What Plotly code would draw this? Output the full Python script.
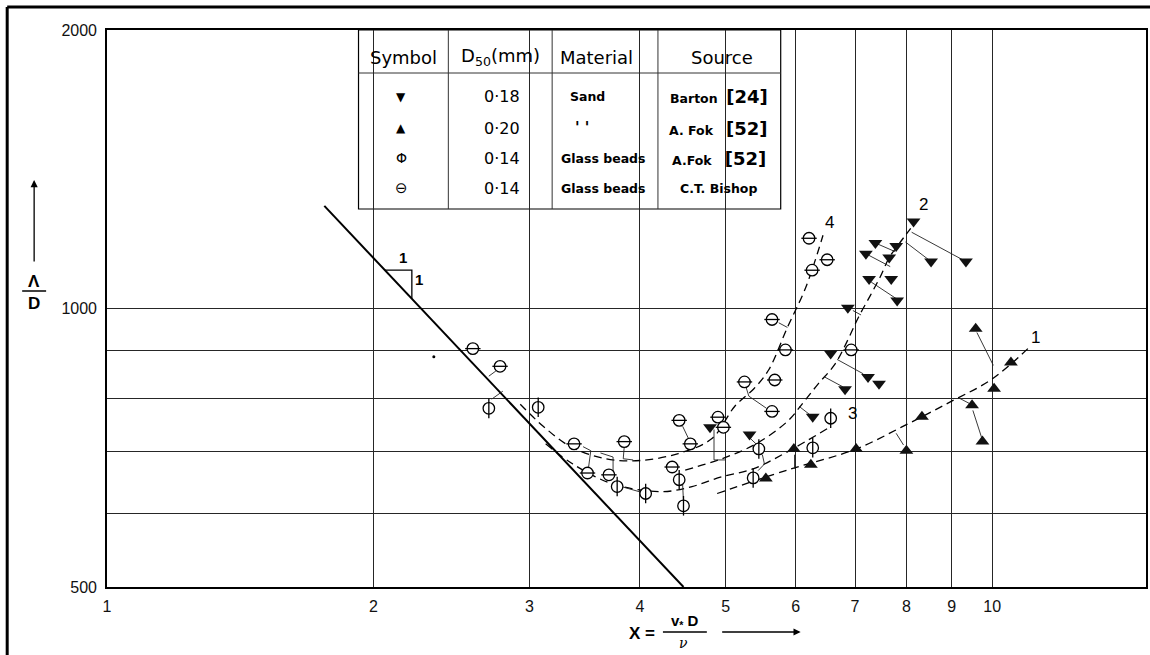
import numpy as np
import plotly.graph_objects as go

# ---------------- data ----------------
# Sand, Barton (filled down-triangles)
down_x = [4.80, 5.32, 6.27, 6.57, 6.82, 6.87, 7.24, 7.45, 7.20, 7.26, 7.38, 7.65, 7.69, 7.79, 7.81, 8.15, 8.53, 9.34]
down_y = [744, 731, 764, 894, 818, 1002, 843, 829, 1146, 1076, 1177, 1135, 1076, 1168, 1020, 1242, 1124, 1124]
# Sand, A. Fok (filled up-triangles)
up_x = [5.55, 5.97, 6.24, 7.02, 8.00, 8.33, 9.49, 9.75, 9.58, 10.05, 10.5]
up_y = [655, 705, 678, 705, 702, 764, 786, 718, 951, 819, 874]
# Glass beads, A. Fok (circle with vertical bar)
phi_x = [2.70, 3.07, 3.77, 4.06, 4.43, 4.48, 5.37, 5.45, 6.27, 6.57]
phi_y = [780, 782, 642, 631, 653, 612, 656, 705, 707, 761]
# Glass beads, C.T. Bishop (circle with horizontal bar)
theta_x = [2.59, 2.78, 3.37, 3.49, 3.69, 3.84, 4.43, 4.56, 4.35, 4.90, 4.97, 6.21, 6.51, 6.26, 5.64, 5.84, 5.25, 5.68, 6.93, 5.64]
theta_y = [905, 866, 714, 664, 661, 718, 757, 714, 674, 763, 744, 1191, 1129, 1100, 973, 902, 833, 837, 902, 774]

# dashed trend curves 1..4
c1_x = [4.89, 5.87, 7.02, 8.00, 9.00, 10.0, 11.0]
c1_y = [631, 669, 705, 749, 794, 839, 907]
c2_x = [4.50, 4.95, 5.41, 5.87, 6.11, 6.36, 6.64, 6.87, 7.06, 7.28, 7.47, 7.65, 7.83, 8.09]
c2_y = [669, 688, 714, 755, 790, 829, 870, 925, 978, 1032, 1081, 1135, 1171, 1221]
c3_x = [3.13, 3.36, 3.73, 4.24, 4.58, 4.95, 5.37, 5.87, 6.52]
c3_y = [714, 679, 646, 634, 642, 658, 671, 700, 742]
c4_x = [2.93, 3.11, 3.34, 3.66, 4.00, 4.42, 4.82, 5.12, 5.38, 5.59, 5.87, 6.16, 6.44]
c4_y = [788, 746, 709, 688, 685, 697, 723, 784, 819, 858, 954, 1055, 1200]

# thin tie lines between points and curves (None separates segments)
tie_x = [2.75, 2.70, None, 2.72, 2.80, None, 3.45, 3.52, 3.50, None, 3.61, 3.73, 3.73, None,
         3.84, 3.83, 3.93, None, 3.81, 3.99, None, 4.47, 4.54, None, 4.47, 4.48, None,
         4.85, 4.85, 4.99, None, 5.27, 5.31, 5.56, None, 5.74, 5.87, None, 5.32, 5.41, None,
         5.50, 5.53, 5.44, None, 5.98, 5.98, None, 6.05, 6.22, None, 6.68, 7.15, None,
         6.47, 6.78, None, 6.96, 7.11, None, 7.20, 7.67, None, 7.38, 7.77, None,
         8.11, 9.34, None, 7.98, 8.53, None, 7.30, 7.79, None, 7.94, 7.79, None,
         9.61, 10.03, None, 9.18, 9.46, None, 9.51, 9.73]
tie_y = [856, 845, None, 798, 814, None, 709, 702, 674, None, 698, 691, 666, None,
         709, 688, 686, None, 642, 634, None, 746, 723, None, 645, 618, None,
         740, 686, 686, None, 823, 804, 780, None, 965, 954, None, 725, 714, None,
         695, 679, 668, None, 695, 671, None, 784, 768, None, 881, 850, None,
         843, 823, None, 995, 984, None, 1146, 1110, None, 1177, 1152, None,
         1209, 1124, None, 1180, 1124, None, 1068, 1025, None, 712, 733, None,
         942, 868, None, 800, 788, None, 776, 725]

# slope -1 limit line and its 1:1 triangle
lim_x = [1.76, 4.48]
lim_y = [1291, 500]
tri_x = [2.06, 2.21, 2.21]
tri_y = [1100, 1100, 1025]

speck_x = [2.34]
speck_y = [887]

x_ticks = [1, 2, 3, 4, 5, 6, 7, 8, 9, 10]
y_grid = [500, 600, 700, 800, 900, 1000, 2000]
y_labels = ["500", "", "", "", "", "1000", "2000"]

curve_labels = ["1", "2", "3", "4"]
curve_label_x = [11.2, 8.37, 6.95, 6.55]
curve_label_y = [930, 1295, 770, 1240]

table_header = ["Symbol", "D<sub>50</sub>(mm)", "Material", "Source"]
table_symbols = ["▼", "▲", "Φ", "⊖"]
table_d50 = ["0·18", "0·20", "0·14", "0·14"]
table_material = ["Sand", "' '", "Glass beads", "Glass beads"]
table_source = ["Barton  <span style='font-size:18px'>[24]</span>",
                "A. Fok   <span style='font-size:18px'>[52]</span>",
                "A.Fok   <span style='font-size:18px'>[52]</span>",
                "C.T. Bishop"]

# ---------------- figure ----------------
FONT = "DejaVu Sans, Liberation Sans, Arial, sans-serif"
FONT2 = "Liberation Sans, Arial, sans-serif"
fig = go.Figure()

fig.add_trace(go.Scatter(x=lim_x, y=lim_y, mode="lines",
                         line=dict(color="black", width=2), hoverinfo="skip"))
fig.add_trace(go.Scatter(x=tri_x, y=tri_y, mode="lines",
                         line=dict(color="black", width=1.3), hoverinfo="skip"))
for cx, cy in [(c1_x, c1_y), (c2_x, c2_y), (c3_x, c3_y), (c4_x, c4_y)]:
    fig.add_trace(go.Scatter(x=cx, y=cy, mode="lines", line_shape="spline",
                             line=dict(color="black", width=1.3, dash="8px,5px"),
                             hoverinfo="skip"))
fig.add_trace(go.Scatter(x=tie_x, y=tie_y, mode="lines",
                         line=dict(color="#222", width=0.9), connectgaps=False,
                         hoverinfo="skip"))

fig.add_trace(go.Scatter(x=speck_x, y=speck_y, mode="markers",
                         marker=dict(symbol="circle", size=3, color="black")))

fig.add_trace(go.Scatter(x=down_x, y=down_y, mode="markers",
                         marker=dict(symbol="triangle-down", size=12, color="#111",
                                     line=dict(width=0))))
fig.add_trace(go.Scatter(x=up_x, y=up_y, mode="markers",
                         marker=dict(symbol="triangle-up", size=12, color="#111",
                                     line=dict(width=0))))

for sx, sy, bar, bsize in [(phi_x, phi_y, "line-ns", 14), (theta_x, theta_y, "line-ew", 11)]:
    fig.add_trace(go.Scatter(x=sx, y=sy, mode="markers",
                             marker=dict(symbol="circle", size=11.5, color="white",
                                         line=dict(color="black", width=1.3))))
    fig.add_trace(go.Scatter(x=sx, y=sy, mode="markers",
                             marker=dict(symbol=bar, size=bsize, color="black",
                                         line=dict(color="black", width=1.3))))

# ---------------- layout ----------------
L, R, T, B = 107, 2, 30, 68
W, H = 1150, 655
pw, ph = W - L - R, H - T - B


def px(xp):
    return (xp - L) / pw


def py(yp):
    return (H - B - yp) / ph


shapes = []
# legend table (white box hides grid lines)
tx0, tx1, ty0, ty1 = px(359), px(782), py(209), 1.0
shapes.append(dict(type="rect", xref="paper", yref="paper", x0=tx0, x1=tx1, y0=ty0, y1=ty1,
                   fillcolor="white", line=dict(color="black", width=1.2), layer="between"))
shapes.append(dict(type="line", xref="paper", yref="paper", x0=tx0, x1=tx1, y0=py(73), y1=py(73),
                   line=dict(color="#333", width=1), layer="between"))
for cxp in [449, 553, 659]:
    shapes.append(dict(type="line", xref="paper", yref="paper", x0=px(cxp), x1=px(cxp),
                       y0=ty0, y1=ty1, line=dict(color="#333", width=1), layer="between"))
# outer page frame (top + left visible)
shapes.append(dict(type="line", xref="paper", yref="paper", x0=px(7), x1=px(1160),
                   y0=py(7), y1=py(7), line=dict(color="black", width=3)))
shapes.append(dict(type="line", xref="paper", yref="paper", x0=px(7), x1=px(7),
                   y0=py(7), y1=py(665), line=dict(color="black", width=3)))
# y-title fraction bar and x-title fraction bar
shapes.append(dict(type="line", xref="paper", yref="paper", x0=px(22), x1=px(46),
                   y0=py(291), y1=py(291), line=dict(color="black", width=1.5)))
shapes.append(dict(type="line", xref="paper", yref="paper", x0=px(664), x1=px(708),
                   y0=py(632), y1=py(632), line=dict(color="black", width=1.3)))

ann = []


def txt(x, y, text, size, family=FONT, xref="paper", yref="paper"):
    ann.append(dict(xref=xref, yref=yref, x=x, y=y, text=text, showarrow=False,
                    xanchor="center", yanchor="middle",
                    font=dict(size=size, color="black", family=family)))


# table text
hdr_x = [404, 501, 597, 723]
for t, xx in zip(table_header, hdr_x):
    txt(px(xx), py(57), t, 18)
row_y = [97, 128, 158, 188]
sym_size = [12, 12, 14, 15]
mat_x = [588, 583, 604, 604]
mat_size = [12.5, 15, 12.5, 12.5]
for i, yy in enumerate(row_y):
    txt(px(402), py(yy), table_symbols[i], sym_size[i], "DejaVu Sans")
    txt(px(503), py(yy), table_d50[i], 16)
    txt(px(mat_x[i]), py(yy), "<b>" + table_material[i] + "</b>", mat_size[i])
    txt(px(720), py(yy), "<b>" + table_source[i] + "</b>", 12.5)

# curve labels
for lab, lx, ly in zip(curve_labels, curve_label_x, curve_label_y):
    txt(np.log10(lx), np.log10(ly), lab, 17, FONT2, "x", "y")
# 1:1 slope labels
txt(np.log10(2.16), np.log10(1135), "<b>1</b>", 15, FONT2, "x", "y")
txt(np.log10(2.25), np.log10(1076), "<b>1</b>", 15, FONT2, "x", "y")

# y axis title: arrow + Λ / D
ann.append(dict(xref="paper", yref="paper", x=px(34), y=py(180), ax=0, ay=83, text="",
                showarrow=True, arrowhead=2, arrowsize=1.1, arrowwidth=1.3, arrowcolor="black"))
txt(px(34), py(281), "<b>Λ</b>", 17, FONT2)
txt(px(34), py(303), "<b>D</b>", 17, FONT2)
# x axis title: X = v* D / ν  --->
txt(px(643), py(633), "<b>X =</b>", 17, FONT2)
txt(px(686), py(621), "<b>v<sub>*</sub> D</b>", 15, FONT2)
txt(px(685), py(643), "<i>ν</i>", 14, "DejaVu Serif")
ann.append(dict(xref="paper", yref="paper", x=px(802), y=py(632), ax=-80, ay=0, text="",
                showarrow=True, arrowhead=2, arrowsize=1.1, arrowwidth=1.3, arrowcolor="black"))

fig.update_layout(
    width=W, height=H,
    margin=dict(l=L, r=R, t=T, b=B),
    paper_bgcolor="white", plot_bgcolor="white",
    showlegend=False,
    font=dict(family=FONT2, color="black"),
    shapes=shapes, annotations=ann,
)
fig.update_xaxes(type="log", range=[0, np.log10(14.92)],
                 tickvals=x_ticks, ticktext=[str(v) for v in x_ticks],
                 showgrid=True, gridcolor="#262626", gridwidth=1,
                 showline=True, linecolor="black", linewidth=1.6, mirror=True,
                 ticks="", ticklabelstandoff=4, zeroline=False,
                 tickfont=dict(size=16, family=FONT2, color="#111"))
fig.update_yaxes(type="log", range=[np.log10(500), np.log10(2000)],
                 tickvals=y_grid, ticktext=y_labels,
                 showgrid=True, gridcolor="#262626", gridwidth=1,
                 showline=True, linecolor="black", linewidth=1.6, mirror=True,
                 ticks="", ticklabelstandoff=5, zeroline=False,
                 tickfont=dict(size=16, family=FONT2, color="#111"))

fig.write_html("out.html")
